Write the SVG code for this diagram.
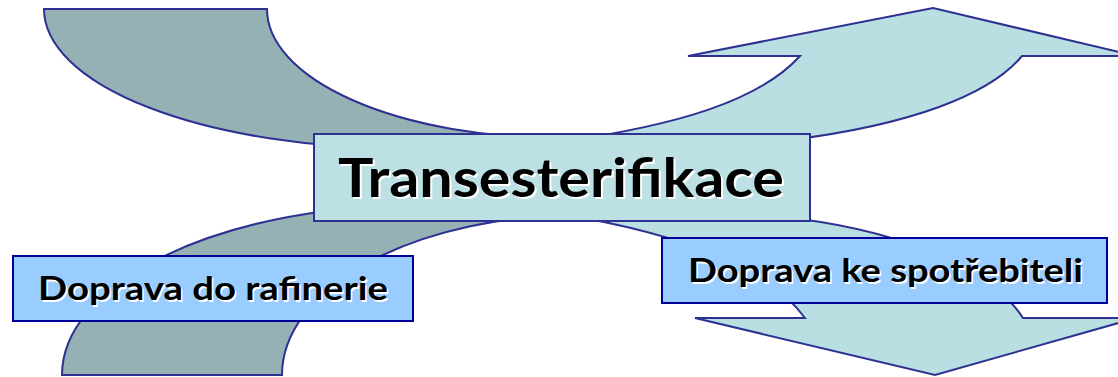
<svg xmlns="http://www.w3.org/2000/svg" width="1118" height="377" viewBox="0 0 1118 377">
<style>
.grey{fill:#96B1B4;stroke:#2E3192;stroke-width:2;stroke-linejoin:miter}
.cyan{fill:#B9DFE2;stroke:#2E3192;stroke-width:2;stroke-linejoin:miter}
.main{fill:#BCE0E4;stroke:#2E3192;stroke-width:2}
.lbl{fill:#99CCFF;stroke:#000099;stroke-width:2}
.t{font-family:Lato,"Open Sans","Liberation Sans",sans-serif;font-weight:bold;fill:#000}
.sh{font-family:Lato,"Open Sans","Liberation Sans",sans-serif;font-weight:bold;fill:#fff}
</style>
<g id="connectors">
<path class="grey" d="M44,9 L267,9 A293,129 0 0 0 560,138 L400,148 A356,139 0 0 1 44,9 Z"/>
<path class="cyan" d="M560,142 C680,125 760,100 800,56 L688,56 L933,8 L1136,56 L1022,56 C990,95 910,125 790,140 Z"/>
<path class="grey" d="M62,375 A358,170 0 0 1 420,205 L580,215 A298,160 0 0 0 282,375 Z"/>
<path class="cyan" d="M560,214 C690,235 770,270 805,318 L695,318 L935,375 L1136,318 L1023,318 C1000,282 930,236 800,219 Z"/>
</g>
<g id="node-transesterifikace">
<rect class="main" x="314" y="134" width="496" height="87"/>
<text class="sh" x="340" y="199" font-size="53" textLength="446" lengthAdjust="spacingAndGlyphs">Transesterifikace</text>
<text class="t" x="338" y="197" font-size="53" textLength="446" lengthAdjust="spacingAndGlyphs">Transesterifikace</text>
</g>
<g id="node-doprava-rafinerie">
<rect class="lbl" x="13" y="256" width="400" height="65"/>
<text class="sh" x="39.5" y="301.5" font-size="33" textLength="350" lengthAdjust="spacingAndGlyphs">Doprava do rafinerie</text>
<text class="t" x="38" y="300" font-size="33" textLength="350" lengthAdjust="spacingAndGlyphs">Doprava do rafinerie</text>
</g>
<g id="node-doprava-spotrebitel">
<rect class="lbl" x="662" y="238" width="445" height="65"/>
<text class="sh" x="689.5" y="283.5" font-size="33" textLength="395" lengthAdjust="spacingAndGlyphs">Doprava ke spotřebiteli</text>
<text class="t" x="688" y="282" font-size="33" textLength="395" lengthAdjust="spacingAndGlyphs">Doprava ke spotřebiteli</text>
</g>
</svg>
